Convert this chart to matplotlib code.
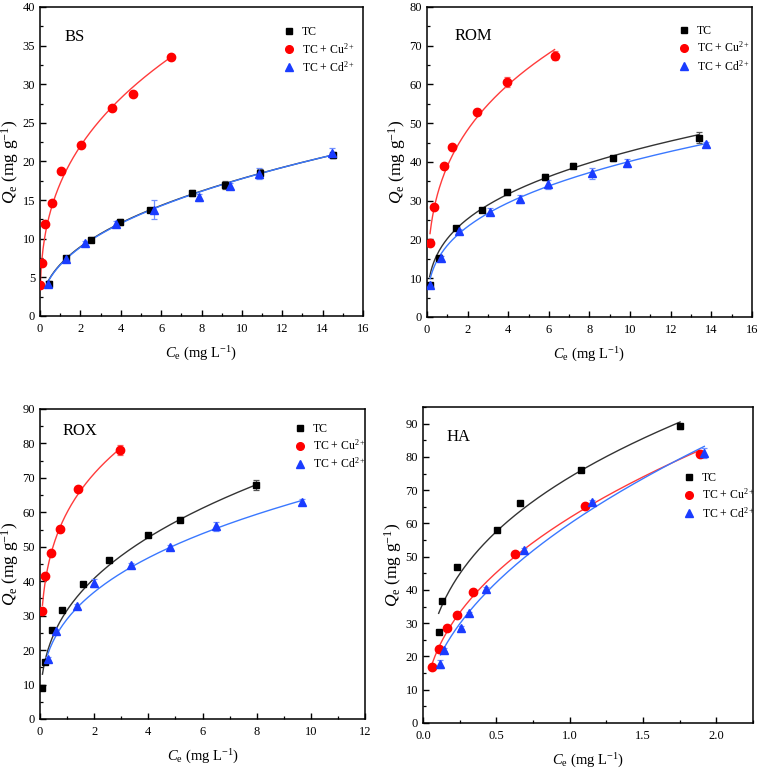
import matplotlib
matplotlib.use("Agg")
import matplotlib.pyplot as plt
import numpy as np
from matplotlib.ticker import MultipleLocator, FormatStrFormatter
from matplotlib.lines import Line2D

plt.rcParams['font.family'] = ['Liberation Serif', 'DejaVu Serif']
plt.rcParams['mathtext.fontset'] = 'custom'
plt.rcParams['mathtext.rm'] = 'Liberation Serif'
plt.rcParams['mathtext.it'] = 'Liberation Serif:italic'

# ---- BS ----
bs_tc_x = [0.42, 1.29, 2.52, 3.98, 5.43, 7.51, 9.14, 10.89, 14.49]
bs_tc_y = [4.2, 7.44, 9.89, 12.13, 13.72, 15.91, 16.95, 18.45, 20.86]
bs_tc_e = [0.3, 0.3, 0.3, 0.4, 0.3, 0.4, 0.5, 0.6, 0.4]
bs_cu_x = [0.02, 0.10, 0.23, 0.59, 1.06, 2.03, 3.55, 4.59, 6.49]
bs_cu_y = [4.0, 6.88, 11.96, 14.62, 18.8, 22.15, 26.97, 28.77, 33.5]
bs_cu_e = [0.2, 0.2, 0.2, 0.2, 0.2, 0.2, 0.2, 0.3, 0.3]
bs_cd_x = [0.40, 1.29, 2.24, 3.76, 5.63, 7.90, 9.41, 10.87, 14.46]
bs_cd_y = [4.2, 7.4, 9.46, 11.96, 13.76, 15.35, 16.86, 18.4, 21.08]
bs_cd_e = [0.3, 0.3, 0.3, 0.3, 1.2, 0.5, 0.3, 0.7, 0.6]

# ---- ROM ----
rom_tc_x = [0.13, 0.61, 1.41, 2.70, 3.93, 5.82, 7.18, 9.18, 13.39]
rom_tc_y = [8.2, 15.26, 23.0, 27.6, 32.2, 36.2, 39.05, 40.95, 46.3]
rom_tc_e = [0.5, 0.5, 0.6, 0.6, 0.7, 0.8, 0.6, 0.7, 1.4]
rom_cu_x = [0.15, 0.33, 0.84, 1.23, 2.46, 3.92, 6.28]
rom_cu_y = [19.2, 28.4, 38.9, 43.9, 52.9, 60.6, 67.4]
rom_cu_e = [0.5, 0.5, 0.5, 0.5, 0.9, 1.3, 1.2]
rom_cd_x = [0.16, 0.67, 1.57, 3.08, 4.59, 5.98, 8.10, 9.87, 13.75]
rom_cd_y = [8.2, 15.3, 22.2, 27.2, 30.4, 34.2, 37.1, 39.8, 44.7]
rom_cd_e = [0.5, 0.5, 0.6, 0.9, 1.0, 1.2, 1.4, 1.0, 0.5]

# ---- ROX ----
rox_tc_x = [0.09, 0.18, 0.45, 0.82, 1.57, 2.53, 3.98, 5.15, 7.99]
rox_tc_y = [9.0, 16.4, 25.9, 31.7, 39.3, 46.1, 53.3, 57.8, 67.9]
rox_tc_e = [0.5, 0.5, 0.5, 0.5, 0.6, 0.6, 0.6, 0.7, 1.4]
rox_cu_x = [0.09, 0.18, 0.39, 0.72, 1.42, 2.96]
rox_cu_y = [31.4, 41.4, 48.3, 55.2, 66.7, 78.0]
rox_cu_e = [0.5, 0.5, 0.5, 0.5, 0.6, 1.5]
rox_cd_x = [0.28, 0.59, 1.36, 2.00, 3.36, 4.80, 6.49, 9.67]
rox_cd_y = [17.5, 25.6, 32.8, 39.4, 44.7, 49.8, 55.9, 63.1]
rox_cd_e = [0.5, 0.5, 0.5, 1.2, 0.6, 0.6, 1.2, 0.8]

# ---- HA ----
ha_tc_x = [0.107, 0.133, 0.233, 0.503, 0.661, 1.079, 1.753]
ha_tc_y = [27.4, 36.8, 46.8, 57.9, 66.1, 76.1, 89.2]
ha_tc_e = [0.5, 0.5, 0.5, 0.5, 0.6, 0.6, 0.8]
ha_cu_x = [0.064, 0.11, 0.167, 0.235, 0.341, 0.626, 1.104, 1.886]
ha_cu_y = [16.9, 22.3, 28.6, 32.4, 39.5, 50.7, 65.2, 80.9]
ha_cu_e = [0.5, 0.5, 0.5, 0.5, 0.5, 0.6, 0.6, 0.8]
ha_cd_x = [0.119, 0.144, 0.261, 0.315, 0.43, 0.686, 1.15, 1.918]
ha_cd_y = [17.7, 22.0, 28.7, 33.0, 40.4, 51.9, 66.4, 81.1]
ha_cd_e = [1.2, 0.5, 0.5, 0.5, 0.5, 0.6, 0.7, 1.5]

# Freundlich fit parameters (K, 1/n): TC, Cu, Cd
bs_fit = [(6.67, 0.426), (17.16, 0.358), (6.6, 0.43)]
rom_fit = [(20.2, 0.326), (38.9, 0.312), (18.45, 0.338)]
rox_fit = [(31.6, 0.369), (60.0, 0.248), (29.0, 0.345)]
ha_fit = [(73.9, 0.361), (61.7, 0.448), (59.9, 0.504)]

labels = ['TC', 'TC + Cu$^{2+}$', 'TC + Cd$^{2+}$']
markers = ['s', 'o', '^']
mcolors = ['#000000', '#ff0000', '#1a3cff']
lcolors = ['#333333', '#ff3b3b', '#3a78ff']
ecolors = ['#555555', '#ff6060', '#7090ff']
msizes = [5, 6, 6]

panels = [
    dict(name='BS', rect=[0.0528, 0.5923, 0.4261, 0.3987], xlim=(0, 16), ylim=(0, 40),
         xmaj=2, xmin=1, ymaj=5, ymin=2.5, xfmt='%d',
         data=[(bs_tc_x, bs_tc_y, bs_tc_e), (bs_cu_x, bs_cu_y, bs_cu_e), (bs_cd_x, bs_cd_y, bs_cd_e)],
         fit=bs_fit, label_xy=(0.077, 0.903), leg_xy=(0.745, 0.946)),
    dict(name='ROM', rect=[0.5633, 0.5910, 0.4288, 0.4000], xlim=(0, 16), ylim=(0, 80),
         xmaj=2, xmin=1, ymaj=10, ymin=5, xfmt='%d',
         data=[(rom_tc_x, rom_tc_y, rom_tc_e), (rom_cu_x, rom_cu_y, rom_cu_e), (rom_cd_x, rom_cd_y, rom_cd_e)],
         fit=rom_fit, label_xy=(0.086, 0.906), leg_xy=(0.765, 0.950)),
    dict(name='ROX', rect=[0.0528, 0.0723, 0.4288, 0.4000], xlim=(0, 12), ylim=(0, 90),
         xmaj=2, xmin=1, ymaj=10, ymin=5, xfmt='%d',
         data=[(rox_tc_x, rox_tc_y, rox_tc_e), (rox_cu_x, rox_cu_y, rox_cu_e), (rox_cd_x, rox_cd_y, rox_cd_e)],
         fit=rox_fit, label_xy=(0.068, 0.929), leg_xy=(0.774, 0.963)),
    dict(name='HA', rect=[0.5580, 0.0671, 0.4354, 0.4077], xlim=(0, 2.25), ylim=(0, 95),
         xmaj=0.5, xmin=0.25, ymaj=10, ymin=5, xfmt='%.1f',
         data=[(ha_tc_x, ha_tc_y, ha_tc_e), (ha_cu_x, ha_cu_y, ha_cu_e), (ha_cd_x, ha_cd_y, ha_cd_e)],
         fit=ha_fit, label_xy=(0.07, 0.905), leg_xy=(0.781, 0.802)),
]

fig = plt.figure(figsize=(7.58, 7.75), dpi=100)

for p in panels:
    ax = fig.add_axes(p['rect'])
    for i, (x, y, e) in enumerate(p['data']):
        K, m = p['fit'][i]
        xs = np.linspace(min(x), max(x), 200)
        ax.plot(xs, K * xs ** m, color=lcolors[i], lw=1.0, zorder=2)
        ax.errorbar(x, y, yerr=e, fmt=markers[i], color=mcolors[i], ms=msizes[i],
                    ecolor=ecolors[i], elinewidth=0.9, capsize=2.5, capthick=0.9, zorder=3)
    ax.set_xlim(p['xlim'])
    ax.set_ylim(p['ylim'])
    ax.xaxis.set_major_locator(MultipleLocator(p['xmaj']))
    ax.xaxis.set_minor_locator(MultipleLocator(p['xmin']))
    ax.yaxis.set_major_locator(MultipleLocator(p['ymaj']))
    ax.yaxis.set_minor_locator(MultipleLocator(p['ymin']))
    ax.xaxis.set_major_formatter(FormatStrFormatter(p['xfmt']))
    ax.tick_params(which='major', direction='in', length=4.5, width=1.0, labelsize=9,
                   top=False, right=False)
    ax.tick_params(axis='x', which='major', pad=5)
    ax.tick_params(axis='y', which='major', pad=3.5)
    ax.tick_params(which='minor', direction='in', length=2.5, width=0.9, top=False, right=False)
    for s in ax.spines.values():
        s.set_linewidth(1.1)
    ax.set_xlabel('$C_\\mathrm{e}$ (mg L$^{-1}$)', fontsize=10.5, labelpad=7)
    ax.set_ylabel('$Q_\\mathrm{e}$ (mg g$^{-1}$)', fontsize=12.5, labelpad=1)
    ax.text(p['label_xy'][0], p['label_xy'][1], p['name'], transform=ax.transAxes,
            fontsize=12, va='center', ha='left')
    handles = [Line2D([], [], marker=markers[i], color=mcolors[i], ls='none', ms=msizes[i] - 0.5)
               for i in range(3)]
    ax.legend(handles, labels, loc='upper left', bbox_to_anchor=p['leg_xy'], frameon=False,
              fontsize=8.5, handletextpad=0.6, labelspacing=0.3, handlelength=1.0,
              borderpad=0.2, borderaxespad=0)

fig.savefig('out.png', dpi=100)
